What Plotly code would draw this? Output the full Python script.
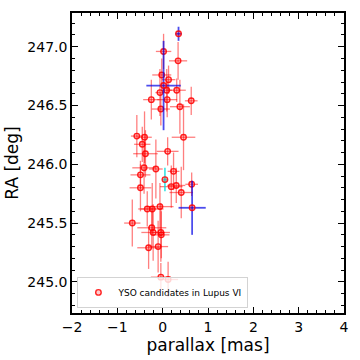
import plotly.graph_objects as go

# YSO candidates (red): parallax [mas], RA [deg] and their errors
plx = [0.02, 0.34, -0.02, 0.13, -0.06, 0.09, 0.31, -0.25, 0.10, 0.63,
       0.38, -0.04, -0.57, -0.40, 0.46, -0.45, -0.38, 0.11, -0.41, -0.15,
       -0.49, 0.24, 0.64, -0.49, 0.19, 0.30, 0.41, -0.06, -0.34, -0.23,
       -0.67, -0.24, -0.21, -0.04, -0.03, -0.31, -0.10, -0.04, 0.12]
ra = [246.96, 246.88, 246.76, 246.72, 246.61, 246.63, 246.63, 246.55, 246.55, 246.54,
      246.49, 246.47, 246.24, 246.23, 246.23, 246.17, 246.09, 246.11, 245.97, 245.96,
      245.91, 245.94, 245.83, 245.80, 245.81, 245.82, 245.76, 245.64, 245.62, 245.62,
      245.50, 245.46, 245.42, 245.42, 245.40, 245.29, 245.30, 245.04, 245.02]
plx_err = [0.17, 0.20, 0.21, 0.15, 0.10, 0.12, 0.20, 0.18, 0.22, 0.14,
           0.22, 0.20, 0.13, 0.16, 0.26, 0.18, 0.27, 0.24, 0.26, 0.15,
           0.22, 0.13, 0.14, 0.24, 0.25, 0.20, 0.26, 0.30, 0.20, 0.25,
           0.18, 0.32, 0.26, 0.20, 0.18, 0.25, 0.22, 0.22, 0.22]
ra_err = [0.15, 0.16, 0.14, 0.12, 0.20, 0.18, 0.10, 0.17, 0.15, 0.12,
          0.23, 0.14, 0.18, 0.22, 0.28, 0.15, 0.20, 0.12, 0.22, 0.25,
          0.12, 0.16, 0.10, 0.20, 0.18, 0.15, 0.22, 0.20, 0.15, 0.22,
          0.20, 0.17, 0.24, 0.25, 0.20, 0.18, 0.22, 0.12, 0.15]

# sources with blue error bars and one with cyan error bars
plx_b = [0.35, 0.02, 0.65]
ra_b = [247.11, 246.67, 245.63]
plx_err_b = [0.07, 0.38, 0.30]
ra_err_b = [0.06, 0.38, 0.23]

plx_c = [0.05]
ra_c = [245.87]
plx_err_c = [0.05]
ra_err_c = [0.10]

FONT = "DejaVu Sans"
RED = "rgba(255,0,0,{})"


def errtrace(x, y, ex, ey, col, alpha, width, name, show):
    return go.Scatter(
        x=x, y=y, mode="markers", name=name, showlegend=show,
        error_x=dict(type="data", array=ex, color=col.format(alpha), thickness=width, width=0),
        error_y=dict(type="data", array=ey, color=col.format(alpha), thickness=width, width=0),
        marker=dict(symbol="circle", size=5.5, color=RED.format(0.2),
                    line=dict(color=RED.format(0.85), width=1.4)),
    )


fig = go.Figure()
fig.add_trace(errtrace(plx, ra, plx_err, ra_err, RED, 0.5, 1.3, "YSO candidates in Lupus VI", True))
fig.add_trace(errtrace(plx_b, ra_b, plx_err_b, ra_err_b, "rgba(0,0,230,{})", 0.7, 1.8, "blue", False))
fig.add_trace(errtrace(plx_c, ra_c, plx_err_c, ra_err_c, "rgba(0,220,220,{})", 0.7, 1.8, "cyan", False))

axis = dict(showline=True, linecolor="black", linewidth=1.5, mirror="allticks",
            ticks="inside", ticklen=6, tickwidth=1, tickcolor="black",
            showgrid=False, zeroline=False, tickfont=dict(size=14, color="black"))

fig.update_xaxes(**axis, range=[-2, 4], dtick=1,
                 minor=dict(dtick=0.2, ticks="inside", ticklen=3, tickcolor="black", showgrid=False),
                 title=dict(text="parallax [mas]", font=dict(size=17, color="black"), standoff=2))
fig.update_yaxes(**axis, range=[244.735, 247.287], dtick=0.5, tickformat=".1f",
                 minor=dict(dtick=0.1, ticks="inside", ticklen=3, tickcolor="black", showgrid=False),
                 title=dict(text="RA [deg]", font=dict(size=17, color="black"), standoff=4))

fig.update_layout(
    width=360, height=360,
    margin=dict(l=72, r=15, t=11, b=47),
    plot_bgcolor="white", paper_bgcolor="white",
    font=dict(family=FONT, color="black"),
    legend=dict(x=0.02, y=0.017, xanchor="left", yanchor="bottom",
                bordercolor="lightgray", borderwidth=1, bgcolor="rgba(255,255,255,0.8)",
                font=dict(size=9)),
)

fig.write_html("out.html", config={"displayModeBar": False},
               post_script="document.body.style.margin='0';")
